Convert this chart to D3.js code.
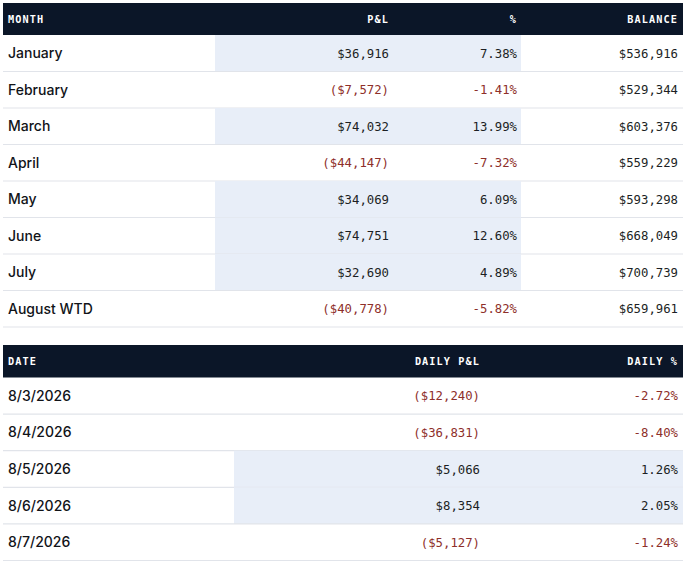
<!DOCTYPE html>
<html>
<head>
<meta charset="utf-8">
<script src="https://cdn.jsdelivr.net/npm/d3@7"></script>
<style>
  html, body { margin: 0; padding: 0; background: #ffffff; }
  svg { display: block; }
</style>
</head>
<body>
<div id="chart"></div>
<script>
// ---- Data ----
const monthHeaders = ["MONTH", "P&L", "%", "BALANCE"];
const months = ["January", "February", "March", "April", "May", "June", "July", "August WTD"];
const monthPnl = [36916, -7572, 74032, -44147, 34069, 74751, 32690, -40778];
const monthPct = [7.38, -1.41, 13.99, -7.32, 6.09, 12.60, 4.89, -5.82];
const monthBalance = [536916, 529344, 603376, 559229, 593298, 668049, 700739, 659961];

const dailyHeaders = ["DATE", "DAILY P&L", "DAILY %"];
const dates = ["8/3/2026", "8/4/2026", "8/5/2026", "8/6/2026", "8/7/2026"];
const dailyPnl = [-12240, -36831, 5066, 8354, -5127];
const dailyPct = [-2.72, -8.40, 1.26, 2.05, -1.24];

// ---- Styles ----
const W = 683, H = 562;
const headerBg = "#0b1628";
const highlight = "#e8eef8";
const borderCol = "#e1e4ea";
const posCol = "#1c1f24";
const negCol = "#8e2f2a";
const labelFont = "Inter, 'Noto Sans', sans-serif";
const monoFont = "'DejaVu Sans Mono', 'Liberation Mono', monospace";

const svg = d3.select("#chart").append("svg")
  .attr("width", W).attr("height", H);

const fmtMoney = v => {
  const s = "$" + d3.format(",")(Math.abs(v));
  return v < 0 ? "(" + s + ")" : s;
};
const fmtPct = v => (v < 0 ? "-" : "") + d3.format(".2f")(Math.abs(v)) + "%";

function drawTable(opts) {
  const { top, headerH, rowH, labels, cols, headers, hlX0, hlX1 } = opts;
  const n = labels.length;
  const g = svg.append("g");
  const x0 = 3, x1 = W;

  const y = d3.scaleBand()
    .domain(d3.range(n))
    .range([top + headerH, top + headerH + rowH * n])
    .paddingInner(0).paddingOuter(0);

  // header
  g.append("rect").attr("x", x0).attr("y", top).attr("width", x1 - x0).attr("height", headerH)
    .attr("fill", headerBg);
  g.selectAll("text.hdr").data(headers).join("text")
    .attr("class", "hdr")
    .attr("x", (d, i) => i === 0 ? x0 + 5 : cols[i - 1].right)
    .attr("y", top + headerH / 2 + 3.5)
    .attr("text-anchor", (d, i) => i === 0 ? "start" : "end")
    .attr("fill", "#ffffff")
    .attr("font-family", monoFont)
    .attr("font-weight", "bold")
    .attr("font-size", 10.2)
    .attr("letter-spacing", 1.1)
    .text(d => d);

  const rows = g.selectAll("g.row").data(d3.range(n)).join("g").attr("class", "row");

  // highlight for positive rows
  rows.filter(i => opts.positive(i)).append("rect")
    .attr("x", hlX0).attr("y", i => y(i))
    .attr("width", hlX1 - hlX0).attr("height", y.bandwidth())
    .attr("fill", highlight);

  // bottom borders
  rows.append("line")
    .attr("x1", x0).attr("x2", x1)
    .attr("y1", i => y(i) + y.bandwidth()).attr("y2", i => y(i) + y.bandwidth())
    .attr("stroke", borderCol).attr("stroke-width", 1.2);

  // labels
  rows.append("text")
    .attr("x", x0 + 5)
    .attr("y", i => y(i) + y.bandwidth() / 2 + 5)
    .attr("font-family", labelFont)
    .attr("font-weight", 500)
    .attr("font-size", 14)
    .attr("fill", "#111318")
    .text(i => labels[i]);

  // value columns
  cols.forEach(c => {
    rows.append("text")
      .attr("x", c.right)
      .attr("y", i => y(i) + y.bandwidth() / 2 + 4.5)
      .attr("text-anchor", "end")
      .attr("font-family", monoFont)
      .attr("font-size", 12.3)
      .attr("fill", i => (c.signed && c.values[i] < 0) ? negCol : posCol)
      .text(i => c.fmt(c.values[i]));
  });
}

drawTable({
  top: 3, headerH: 32, rowH: 36.5,
  labels: months,
  headers: monthHeaders,
  hlX0: 215, hlX1: 521,
  positive: i => monthPnl[i] >= 0,
  cols: [
    { values: monthPnl, fmt: fmtMoney, right: 389, signed: true },
    { values: monthPct, fmt: fmtPct, right: 517, signed: true },
    { values: monthBalance, fmt: fmtMoney, right: 678, signed: false }
  ]
});

drawTable({
  top: 345, headerH: 32.5, rowH: 36.6,
  labels: dates,
  headers: dailyHeaders,
  hlX0: 234, hlX1: W,
  positive: i => dailyPnl[i] >= 0,
  cols: [
    { values: dailyPnl, fmt: fmtMoney, right: 480, signed: true },
    { values: dailyPct, fmt: fmtPct, right: 678, signed: true }
  ]
});
</script>
</body>
</html>
